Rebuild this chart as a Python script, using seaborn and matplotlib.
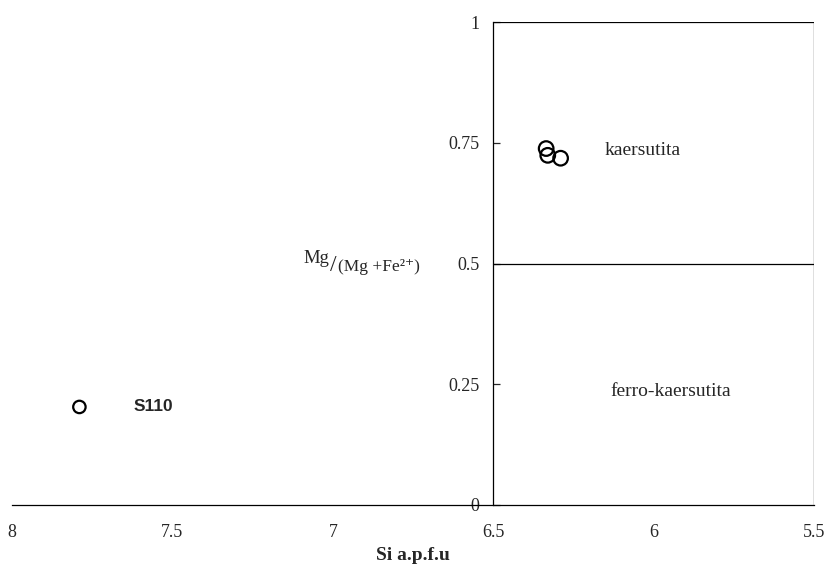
import matplotlib
matplotlib.use("Agg")
import matplotlib.pyplot as plt
import seaborn as sns
import pandas as pd

# amphibole analyses (Si apfu vs Mg/(Mg+Fe2+))
si = [6.335, 6.33, 6.29, 7.79]
mg_ratio = [0.738, 0.724, 0.718, 0.203]
sample = ["", "", "", "S110"]

# classification field boundaries
field_x = [6.5, 5.5]
field_split = 0.5
yticks = [0, 0.25, 0.5, 0.75, 1]
ytick_labels = ["0", "0.25", "0.5", "0.75", "1"]
xticks = [8, 7.5, 7, 6.5, 6, 5.5]
xtick_labels = ["8", "7.5", "7", "6.5", "6", "5.5"]

data = pd.DataFrame({"Si": si, "Mg": mg_ratio, "sample": sample})

sns.set_style("white")
plt.rcParams["font.family"] = ["Liberation Serif", "DejaVu Serif"]

W, H = 824, 569
fig = plt.figure(figsize=(W / 100, H / 100), dpi=100)
ax = fig.add_axes([0.0146, 0.1125, 0.9733, 0.8488])

sns.scatterplot(data=data.iloc[:3], x="Si", y="Mg", ax=ax, s=110,
                facecolor="none", edgecolor="black", linewidth=1.6, zorder=3)
sns.scatterplot(data=data.iloc[3:], x="Si", y="Mg", ax=ax, s=80,
                facecolor="none", edgecolor="black", linewidth=1.6, zorder=3)

# field box
ax.plot([field_x[1], field_x[1]], [0, 1], color="black", lw=0.9)
ax.plot(field_x, [1, 1], color="black", lw=0.9)
ax.plot(field_x, [field_split, field_split], color="black", lw=0.9)

ax.text(6.153, 0.735, "kaersutita", fontsize=14, va="center")
ax.text(6.134, 0.234, "ferro-kaersutita", fontsize=14, va="center")
ax.text(7.62, 0.203, "S110", fontsize=12.5, fontweight="bold",
        family=["Liberation Sans", "DejaVu Sans"], va="center")

# y label written as a slanted fraction, placed next to the 0.5 tick
fig.text(303 / W, 1 - 263 / H, "Mg", fontsize=13.5, va="baseline")
fig.text(330 / W, 1 - 271 / H, "/", fontsize=17, va="baseline")
fig.text(338 / W, 1 - 271 / H, "(Mg +Fe²⁺)", fontsize=12.5, va="baseline")

ax.set_xlim(8, 5.5)
ax.set_ylim(0, 1)
ax.spines["left"].set_position(("data", 6.5))
ax.spines["top"].set_visible(False)
ax.spines["right"].set_visible(False)
for s in ["left", "bottom"]:
    ax.spines[s].set_color("black")
    ax.spines[s].set_linewidth(0.9)

ax.set_yticks(yticks)
ax.set_yticklabels(ytick_labels)
ax.set_xticks(xticks)
ax.set_xticklabels(xtick_labels)
ax.tick_params(axis="y", direction="in", length=5, width=0.9, left=True,
               labelsize=13, pad=10)
ax.tick_params(axis="x", length=0, labelsize=13, pad=14)
ax.set_xlabel("Si a.p.f.u", fontsize=14, fontweight="bold", labelpad=4)
ax.set_ylabel("")

fig.savefig("out.png", dpi=100)
